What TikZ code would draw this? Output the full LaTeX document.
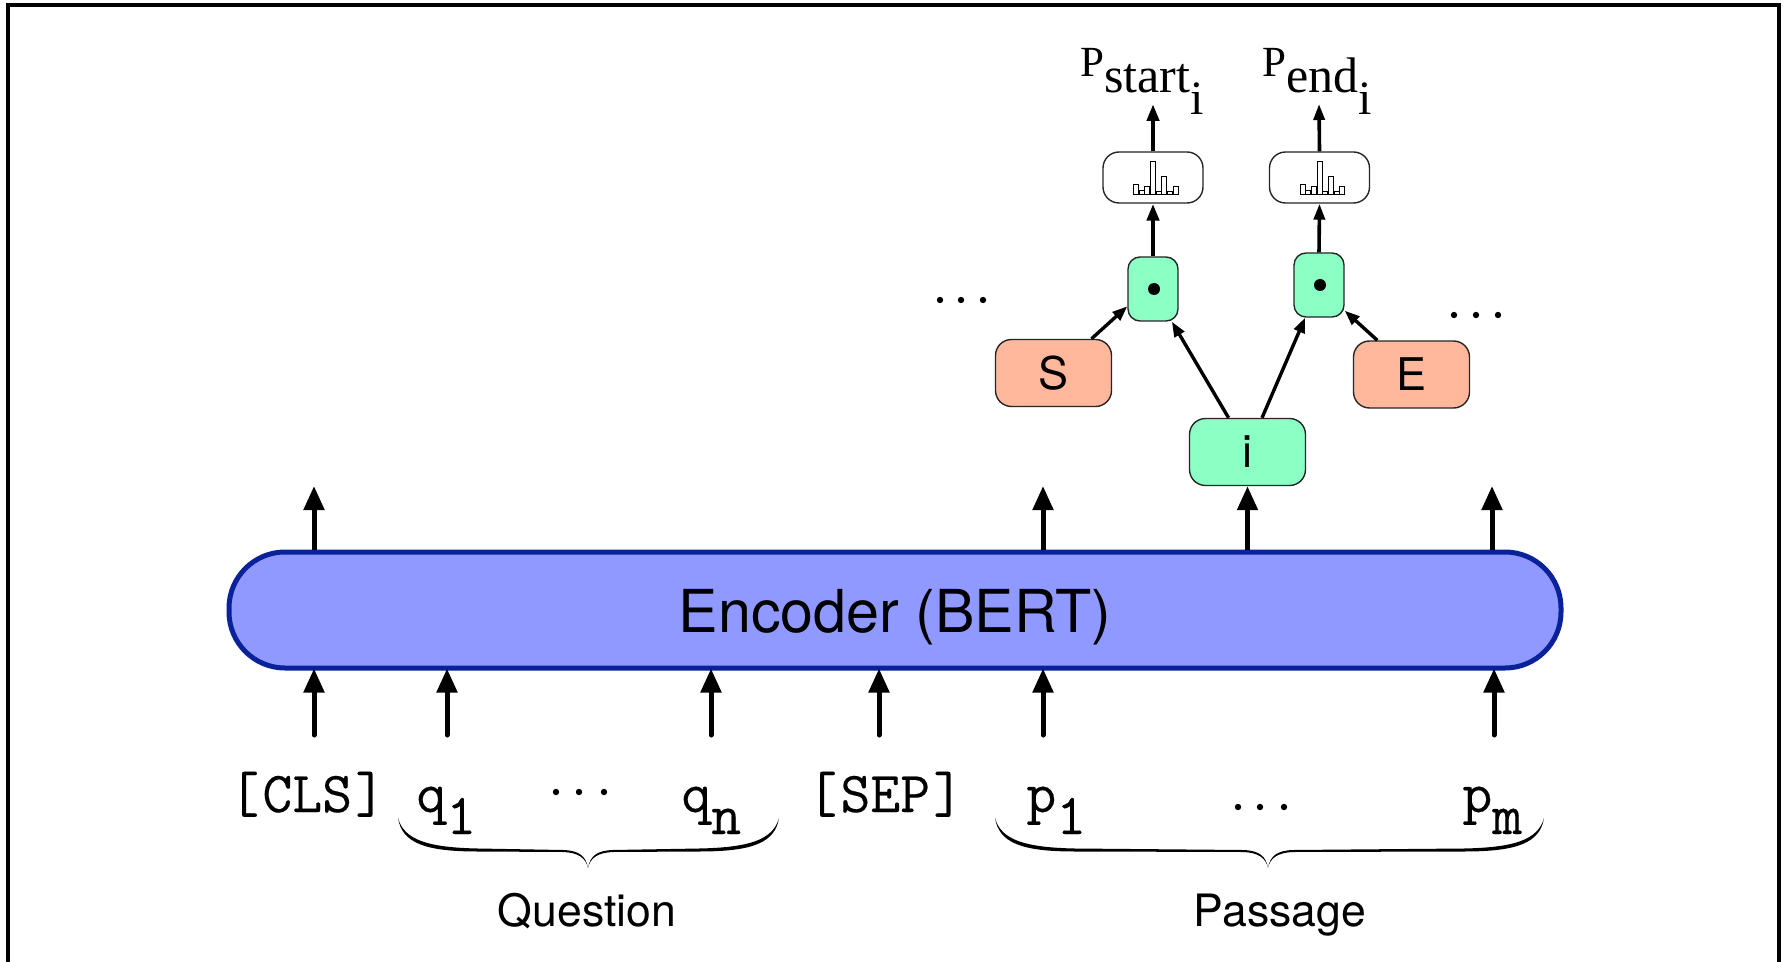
\documentclass[tikz,border=0pt]{standalone}
\usepackage{fontspec}
\setmainfont{TeX Gyre Heros}
\newfontfamily\pfont{Liberation Serif}
\setmonofont[FakeBold=0.25]{Latin Modern Mono}
\usetikzlibrary{arrows.meta}
\definecolor{mint}{HTML}{8CFFC4}
\definecolor{salmon}{HTML}{FFB89C}
\definecolor{encfill}{HTML}{9099FF}
\definecolor{encline}{HTML}{0A2299}
\newcommand{\fs}[1]{\fontsize{#1}{#1}\selectfont}
\newcommand{\bracearm}[3]{%
  \fill (#1,818) .. controls ({#1+#3*4},843) and ({#1+#3*27},851.5) .. ({#1+#3*80},851.5)
    -- ({#2-#3*25},852) .. controls ({#2-#3*10},852.5) and ({#2-#3*2},858) .. (#2,868)
    .. controls ({#2-#3*2},856) and ({#2-#3*9},850.5) .. ({#2-#3*25},850)
    -- ({#1+#3*80},848.5) .. controls ({#1+#3*30},847.5) and ({#1+#3*6},840) .. (#1,818) -- cycle;}
\tikzset{
  bigarrow/.style={line width=2.5pt,-{Triangle[length=12pt,width=10pt]}},
  midarrow/.style={line width=2.3pt,-{Triangle[length=8.5pt,width=6pt]}},
  thinarrow/.style={line width=1.8pt,-{Triangle[length=8pt,width=5.5pt]}},
  slant/.style={line width=1.7pt,-{Triangle[length=7.5pt,width=5.5pt]}},
  roundbox/.style={draw=black!85,line width=0.7pt,rounded corners=8pt,inner sep=0pt,font=\fs{22.5}},
  sbox/.style={roundbox,fill=salmon,minimum width=58pt,minimum height=33.5pt},
  ibox/.style={roundbox,fill=mint,minimum width=58pt,minimum height=33.5pt},
  dotbox/.style={roundbox,fill=mint,rounded corners=6pt,minimum width=25pt,minimum height=32pt},
  histbox/.style={roundbox,fill=white,rounded corners=8pt,minimum width=50pt,minimum height=25.5pt},
  token/.style={inner sep=0pt,anchor=base west,font=\ttfamily\fs{29}},
  sublabel/.style={inner sep=0pt,anchor=base,font=\fs{22.3}},
  plabel/.style={inner sep=0pt,anchor=base west,font=\pfont},
  dotmark/.style={circle,fill=black,inner sep=0pt,minimum size=3.2pt},
  bar/.style={draw=black,line width=0.45pt,fill=white}
}
\begin{document}
\begin{tikzpicture}[x=0.5pt,y=-0.5pt]
\useasboundingbox (0,0) rectangle (1787,962);
\fill[white] (0,0) rectangle (1787,962);
\draw[line width=2pt] (7.5,962) -- (7.5,5) -- (1778.5,5) -- (1778.5,962);

\node[draw=encline,fill=encfill,line width=2.5pt,rounded corners=28pt,minimum width=666pt,minimum height=58pt,inner sep=0pt,font=\fs{29.6},text height=22pt,text depth=0pt] (enc) at (895,610) {Encoder (BERT)};

\node[sbox] (S) at (1053.5,373) {S};
\node[sbox] (E) at (1411.5,374.5) {E};
\node[ibox] (i) at (1247.5,452) {i};
\node[dotbox] (ds) at (1153,289) {};
\node[dotbox] (de) at (1319,285) {};
\node[dotmark,minimum size=6pt] (dsm) at (1154,289) {};
\node[dotmark,minimum size=6pt] (dem) at (1320,285) {};
\node[histbox] (hs) at (1153,177.5) {};
\node[histbox] (he) at (1319.5,177.5) {};

\foreach \ox in {0,166.5}{
  \foreach \n/\h in {0/10,1/4,2/8,3/33,4/3,5/18,6/3,7/8}{
    \filldraw[bar] ({1133.5+\ox+5.67*\n},194) rectangle ({1133.5+\ox+5.67*\n+5},{194-\h});
  }
}

\node[plabel] (ps) at (1080,77) {\fs{21.5}P\raisebox{-8pt}{\fs{25}start}\raisebox{-19pt}{\fs{24}i}};
\node[plabel] (pe) at (1262,77) {\fs{21.5}P\raisebox{-8pt}{\fs{25}end}\raisebox{-19pt}{\fs{24}i}};

\coordinate (ts) at (1153,104);
\coordinate (te) at (1319,104);
\draw[midarrow] (hs.north) -- (ts);
\draw[thinarrow] (he.north) -- (te);
\draw[midarrow] (ds.north) -- (hs.south);
\draw[thinarrow] (de.north) -- (he.south);
\draw[slant] (S.42) -- (ds.214);
\draw[slant] (E.135) -- (de.-45);
\draw[slant] (i.119) -- (ds.-60);
\draw[slant] (i.67) -- (de.247);

\coordinate (u1) at (314,486);
\coordinate (u2) at (1043,486);
\coordinate (u4) at (1492,486);
\draw[bigarrow] (u1|-enc.north) -- (u1);
\draw[bigarrow] (u2|-enc.north) -- (u2);
\draw[bigarrow] (i.south|-enc.north) -- (i.south);
\draw[bigarrow] (u4|-enc.north) -- (u4);

\foreach \n/\x in {1/314,2/447,3/711,4/879,5/1043,6/1494}{
  \coordinate (b\n) at (\x,735);
  \draw[bigarrow,line cap=round,shorten >=-1pt] (b\n) -- (b\n|-enc.south);
}

\node[token] (cls) at (229,812) {[\kern1.6pt CLS\kern1.6pt ]};
\node[token] (sep) at (807,812) {[\kern1.6pt SEP\kern1.6pt ]};
\node[token] (q1) at (416,812) {q\raisebox{-11pt}{1}};
\node[token] (qn) at (681,812) {q\raisebox{-11pt}{n}};
\node[token] (p1) at (1026,812) {p\raisebox{-11pt}{1}};
\node[token] (pm) at (1462,812) {p\raisebox{-11pt}{m}};

\foreach \x in {556,579,604}{\node[dotmark] at (\x,792) {};}
\foreach \x in {1238,1260,1284}{\node[dotmark] at (\x,807) {};}
\foreach \x in {940,961,983}{\node[dotmark] at (\x,300) {};}
\foreach \x in {1454,1476,1498}{\node[dotmark] at (\x,315) {};}

\bracearm{398}{588}{1}
\bracearm{779}{588}{-1}
\bracearm{995}{1268}{1}
\bracearm{1544}{1268}{-1}

\node[sublabel] (q) at (587,926) {Question};
\node[sublabel] (p) at (1280,926) {Passage};
\end{tikzpicture}
\end{document}
